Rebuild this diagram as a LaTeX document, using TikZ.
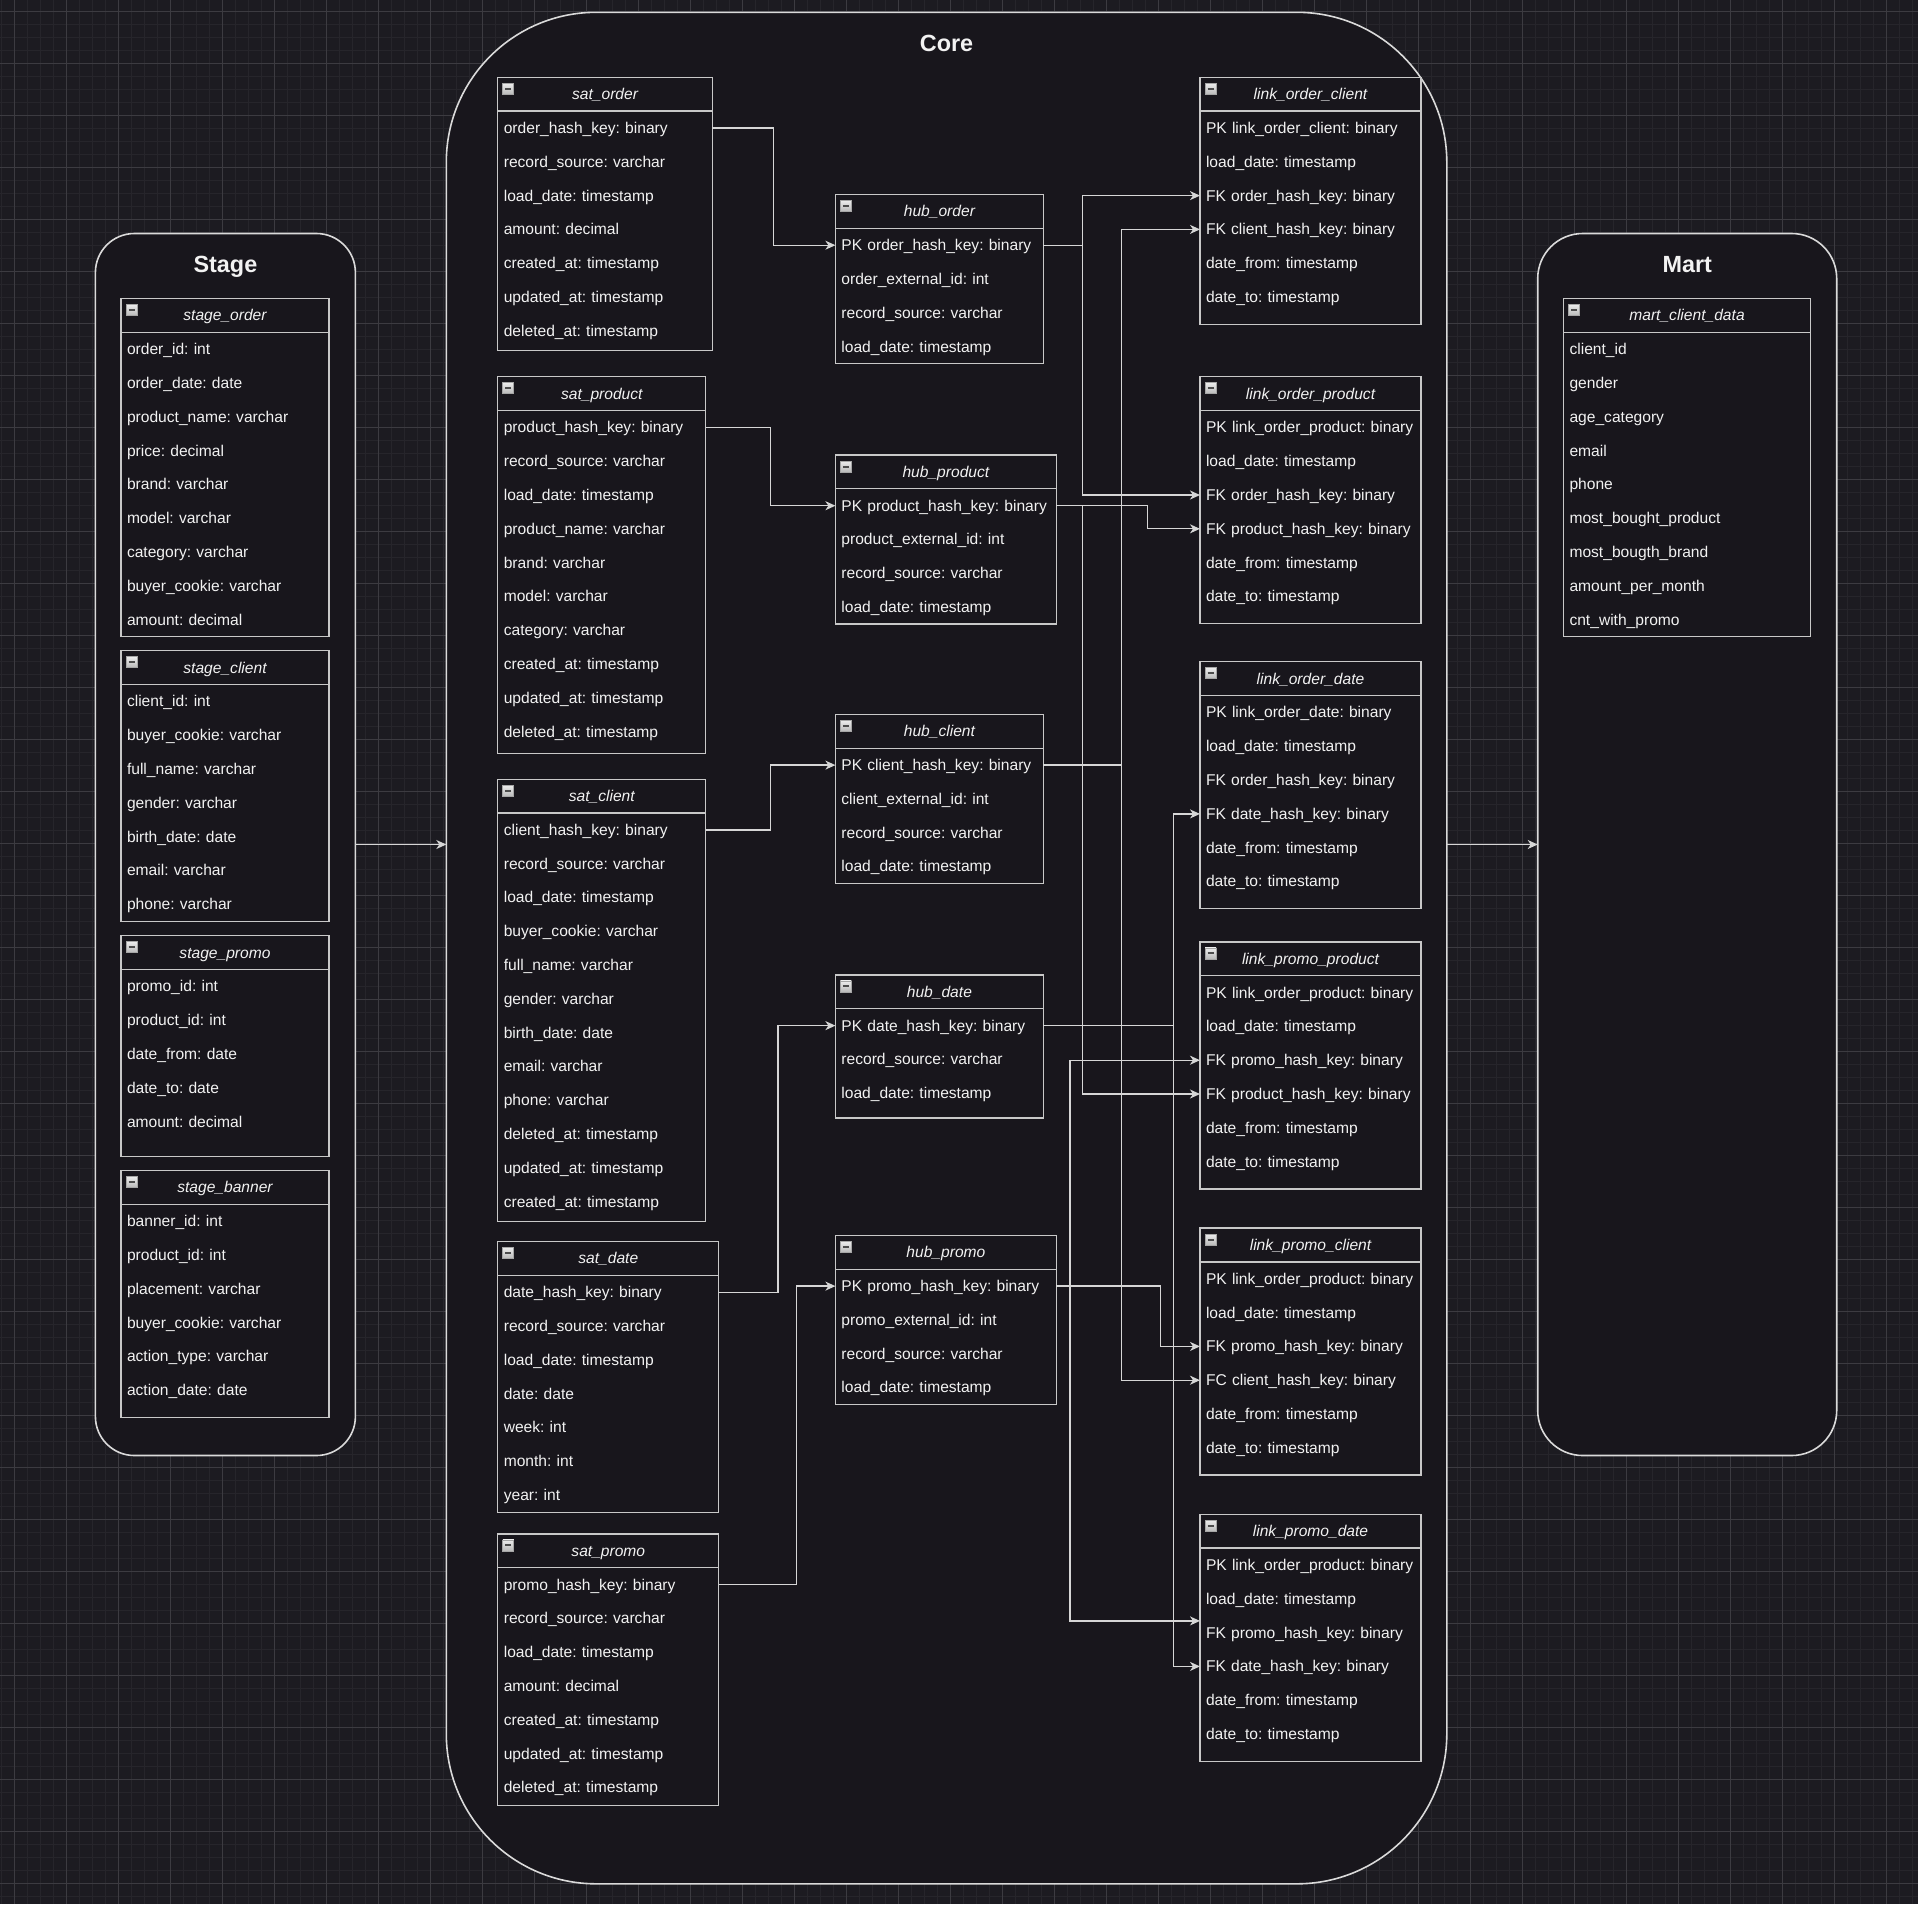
\documentclass[tikz,border=0pt]{standalone}
\usepackage{fontspec}
\setmainfont{Liberation Sans}
\usetikzlibrary{arrows.meta}
\definecolor{bgc}{HTML}{1C1B21}
\definecolor{gminc}{HTML}{26252B}
\definecolor{gmajc}{HTML}{3C3B41}
\definecolor{boxc}{HTML}{18161C}
\definecolor{contc}{HTML}{DADADA}
\definecolor{tblc}{HTML}{C8C8C8}
\definecolor{linec}{HTML}{D6D6D6}
\definecolor{txtc}{HTML}{F2F2F2}
\newcommand{\rowfont}{\fontsize{15.6pt}{18pt}\selectfont}
\newcommand{\ttlfont}{\fontsize{23.4pt}{28pt}\selectfont\bfseries}
\tikzset{
  gmin/.style={draw=gminc, line width=1pt},
  gmaj/.style={draw=gmajc, line width=1pt},
  cont/.style={draw=contc, fill=boxc, line width=1.6pt, anchor=north west, inner sep=0pt, outer sep=0pt},
  ctitle/.style={text=txtc, font=\ttlfont, inner sep=0pt, text height=16.75pt, text depth=0pt},
  tblframe/.style={draw=tblc, fill=boxc, line width=1.3pt, anchor=north west, inner sep=0pt, outer sep=0pt},
  tblline/.style={draw=tblc, line width=1.3pt},
  tblhead/.style={anchor=north west, inner xsep=6pt, inner ysep=0pt, outer sep=0pt, minimum height=33.8pt, align=center, font=\rowfont\itshape, text=txtc, text height=14.1pt, text depth=3.3pt},
  tblrow/.style={anchor=north west, inner xsep=6pt, inner ysep=0pt, outer sep=0pt, minimum height=33.8pt, align=left, font=\rowfont, text=txtc, text height=14.1pt, text depth=3.3pt},
  iconbox/.style={draw=gray!70, top color=gray!15, bottom color=gray!55, line width=0.8pt},
  iconbar/.style={draw=black!70, line width=2pt},
  conn/.style={draw=linec, line width=1.3pt, -{Stealth[length=10pt,width=9pt,inset=3pt]}}
}
% #1 id, #2 left, #3 top, #4 width, #5 height, #6 title, #7 rows
\newcommand{\dbtable}[7]{%
  \pgfmathsetmacro{\tw}{#4-12}%
  \node[tblframe, minimum width=#4pt, minimum height=#5pt] (#1) at (#2,#3) {};
  \node[tblhead, text width=\tw pt] (#1-h) at (#2,#3) {\mbox{#6}};
  \draw[tblline] (#1-h.south west) -- (#1-h.south east);
  \coordinate (#1-ic) at ([xshift=5pt,yshift=-6pt]#1.north west);
  \draw[iconbox] (#1-ic) rectangle ([xshift=11pt,yshift=-11pt]#1-ic);
  \draw[iconbar] ([xshift=2.5pt,yshift=-5.5pt]#1-ic) -- ([xshift=8.5pt,yshift=-5.5pt]#1-ic);
  \foreach \rt [count=\ri] in {#7} {
    \node[tblrow, text width=\tw pt] (#1-\ri) at (#2,{#3+33.8*\ri}) {\mbox{\rt}};
  }
}
\frenchspacing
\begin{document}
\catcode`\_=12
\frenchspacing
\begin{tikzpicture}[x=1pt,y=-1pt]
\useasboundingbox (0,0) rectangle (1918,1904);
\fill[bgc] (0,0) rectangle (1918,1904);
\foreach \gx in {1,14,...,1918} \draw[gmin] (\gx,0) -- (\gx,1904);
\foreach \gy in {11,24,...,1904} \draw[gmin] (0,\gy) -- (1918,\gy);
\foreach \gx in {14,66,...,1918} \draw[gmaj] (\gx,0) -- (\gx,1904);
\foreach \gy in {11,63,...,1904} \draw[gmaj] (0,\gy) -- (1918,\gy);

% containers
\node[cont, rounded corners=39pt, minimum width=260pt, minimum height=1222pt] (stage) at (95.4,233.5) {};
\node[cont, rounded corners=150pt, minimum width=1000.5pt, minimum height=1871.5pt] (core) at (446.3,12.3) {};
\node[cont, rounded corners=45pt, minimum width=299pt, minimum height=1222pt] (mart) at (1537.7,233.5) {};
\node[ctitle] (stage-t) at ([yshift=-31pt]stage.north) {Stage};
\node[ctitle] (core-t) at ([yshift=-30.5pt]core.north) {Core};
\node[ctitle] (mart-t) at ([yshift=-31pt]mart.north) {Mart};

% stage tables
\dbtable{sto}{121}{298.5}{208}{338}{stage_order}{order_id: int,order_date: date,product_name: varchar,price: decimal,brand: varchar,model: varchar,category: varchar,buyer_cookie: varchar,amount: decimal}
\dbtable{stc}{121}{650.7}{208}{271}{stage_client}{client_id: int,buyer_cookie: varchar,full_name: varchar,gender: varchar,birth_date: date,email: varchar,phone: varchar}
\dbtable{stp}{121}{935.7}{208}{221}{stage_promo}{promo_id: int,product_id: int,date_from: date,date_to: date,amount: decimal}
\dbtable{stb}{121}{1170.6}{208}{247}{stage_banner}{banner_id: int,product_id: int,placement: varchar,buyer_cookie: varchar,action_type: varchar,action_date: date}

% satellites
\dbtable{sao}{497.8}{77.3}{214.5}{273}{sat_order}{order_hash_key: binary,record_source: varchar,load_date: timestamp,amount: decimal,created_at: timestamp,updated_at: timestamp,deleted_at: timestamp}
\dbtable{sap}{497.8}{376.7}{208}{377}{sat_product}{product_hash_key: binary,record_source: varchar,load_date: timestamp,product_name: varchar,brand: varchar,model: varchar,category: varchar,created_at: timestamp,updated_at: timestamp,deleted_at: timestamp}
\dbtable{sac}{497.8}{779.2}{208}{442}{sat_client}{client_hash_key: binary,record_source: varchar,load_date: timestamp,buyer_cookie: varchar,full_name: varchar,gender: varchar,birth_date: date,email: varchar,phone: varchar,deleted_at: timestamp,updated_at: timestamp,created_at: timestamp}
\dbtable{sad}{497.8}{1241.5}{221}{271}{sat_date}{date_hash_key: binary,record_source: varchar,load_date: timestamp,date: date,week: int,month: int,year: int}
\dbtable{sapr}{497.8}{1533.9}{221}{271.5}{sat_promo}{promo_hash_key: binary,record_source: varchar,load_date: timestamp,amount: decimal,created_at: timestamp,updated_at: timestamp,deleted_at: timestamp}

% hubs
\dbtable{ho}{835.4}{194.5}{208}{169}{hub_order}{PK order_hash_key: binary,order_external_id: int,record_source: varchar,load_date: timestamp}
\dbtable{hp}{835.4}{455}{221}{169}{hub_product}{PK product_hash_key: binary,product_external_id: int,record_source: varchar,load_date: timestamp}
\dbtable{hc}{835.4}{714.4}{208}{169}{hub_client}{PK client_hash_key: binary,client_external_id: int,record_source: varchar,load_date: timestamp}
\dbtable{hd}{835.4}{974.9}{208}{143}{hub_date}{PK date_hash_key: binary,record_source: varchar,load_date: timestamp}
\dbtable{hpr}{835.4}{1235.4}{221}{169}{hub_promo}{PK promo_hash_key: binary,promo_external_id: int,record_source: varchar,load_date: timestamp}

% links
\dbtable{loc}{1200}{77.3}{221}{247}{link_order_client}{PK link_order_client: binary,load_date: timestamp,FK order_hash_key: binary,FK client_hash_key: binary,date_from: timestamp,date_to: timestamp}
\dbtable{lop}{1200}{376.7}{221}{247}{link_order_product}{PK link_order_product: binary,load_date: timestamp,FK order_hash_key: binary,FK product_hash_key: binary,date_from: timestamp,date_to: timestamp}
\dbtable{lod}{1200}{661.8}{221}{247}{link_order_date}{PK link_order_date: binary,load_date: timestamp,FK order_hash_key: binary,FK date_hash_key: binary,date_from: timestamp,date_to: timestamp}
\dbtable{lpp}{1200}{941.9}{221}{247}{link_promo_product}{PK link_order_product: binary,load_date: timestamp,FK promo_hash_key: binary,FK product_hash_key: binary,date_from: timestamp,date_to: timestamp}
\dbtable{lpc}{1200}{1228.1}{221}{247}{link_promo_client}{PK link_order_product: binary,load_date: timestamp,FK promo_hash_key: binary,FC client_hash_key: binary,date_from: timestamp,date_to: timestamp}
\dbtable{lpd}{1200}{1514.3}{221}{247}{link_promo_date}{PK link_order_product: binary,load_date: timestamp,FK promo_hash_key: binary,FK date_hash_key: binary,date_from: timestamp,date_to: timestamp}

% mart
\dbtable{mcd}{1563.5}{298.5}{247}{338}{mart_client_data}{client_id,gender,age_category,email,phone,most_bought_product,most_bougth_brand,amount_per_month,cnt_with_promo}

% routing columns
\coordinate (v1) at (773.8,0);
\coordinate (v2) at (770.6,0);
\coordinate (v3) at (770.6,0);
\coordinate (v4) at (778,0);
\coordinate (v5) at (796.3,0);
\coordinate (vord) at (1082.6,0);
\coordinate (vcli) at (1121.7,0);
\coordinate (vprod) at (1147.4,0);
\coordinate (vpmc) at (1160.7,0);
\coordinate (vdate) at (1173.2,0);
\coordinate (vpm) at (1070,0);

% container arrows
\draw[conn] (stage.east) -- (stage.east -| core.west);
\draw[conn] (core.east |- mart.west) -- (mart.west);

% sat -> hub
\draw[conn] (sao-1.east) -- (sao-1.east -| v1) |- (ho-1.west);
\draw[conn] (sap-1.east) -- (sap-1.east -| v2) |- (hp-1.west);
\draw[conn] (sac-1.east) -- (sac-1.east -| v3) |- (hc-1.west);
\draw[conn] (sad-1.east) -- (sad-1.east -| v4) |- (hd-1.west);
\draw[conn] (sapr-1.east) -- (sapr-1.east -| v5) |- (hpr-1.west);

% hub -> link
\draw[conn] (ho-1.east) -- (ho-1.east -| vord) |- (loc-3.west);
\draw[conn] (ho-1.east) -- (ho-1.east -| vord) |- (lop-3.west);
\draw[conn] (hc-1.east) -- (hc-1.east -| vcli) |- (loc-4.west);
\draw[conn] (hp-1.east) -- (hp-1.east -| vprod) |- (lop-4.west);
\draw[conn] (hp-1.east) -- (hp-1.east -| vord) |- (lpp-4.west);
\draw[conn] (hd-1.east) -- (hd-1.east -| vdate) |- (lod-4.west);
\draw[conn] (hd-1.east) -- (hd-1.east -| vdate) |- (lpd-4.west);
\draw[conn] (hc-1.east) -- (hc-1.east -| vcli) |- (lpc-4.west);
\draw[conn] (hpr-1.east) -- (hpr-1.east -| vpmc) |- (lpc-3.west);
\draw[conn] (hpr-1.east) -- (hpr-1.east -| vpm) |- (lpp-3.west);
\draw[conn] (hpr-1.east) -- (hpr-1.east -| vpm) |- ([yshift=11.7pt]lpd-3.west);
\end{tikzpicture}
\end{document}
